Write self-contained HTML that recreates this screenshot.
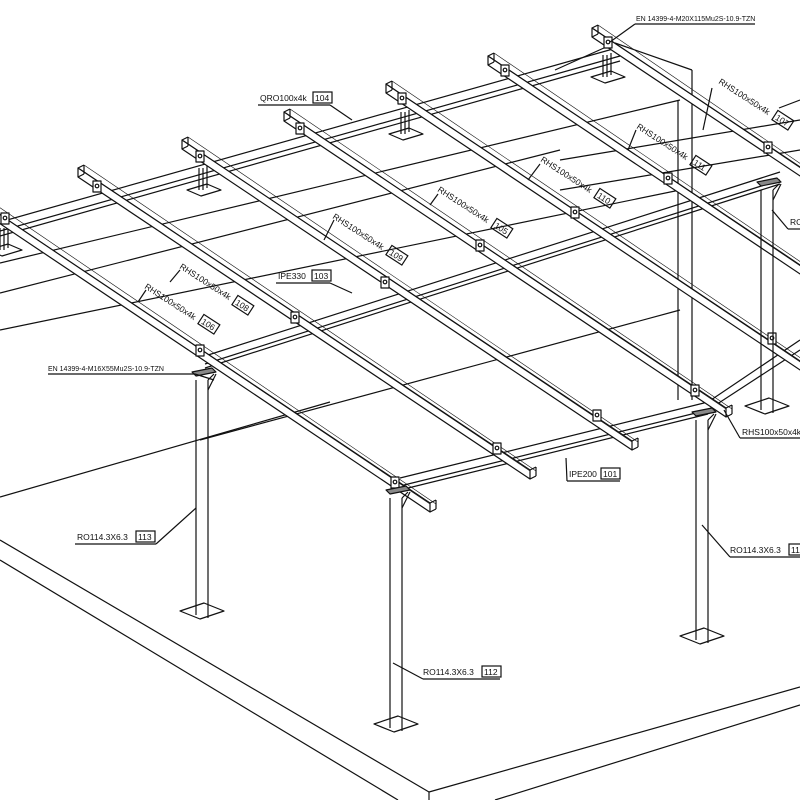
<!DOCTYPE html>
<html><head><meta charset="utf-8"><style>
html,body{margin:0;padding:0;background:#fff;}
svg{display:block;}
text{font-family:"Liberation Sans",sans-serif;fill:#111;}
</style></head><body>
<svg id="s" width="800" height="800" viewBox="0 0 800 800" xmlns="http://www.w3.org/2000/svg" stroke="#111" stroke-width="1.2" fill="none">
<g id="g" stroke-linejoin="round"></g>
<g stroke="none" font-size="8.5">
<text x="260" y="101">QRO100x4k</text>
<text x="278" y="279">IPE330</text>
<text x="48" y="371" font-size="7">EN 14399-4-M16X55Mu2S-10.9-TZN</text>
<text x="636" y="21" font-size="7">EN 14399-4-M20X115Mu2S-10.9-TZN</text>
<text x="569" y="477">IPE200</text>
<text x="742" y="435">RHS100x50x4k</text>
<text x="77" y="540">RO114.3X6.3</text>
<text x="423" y="675">RO114.3X6.3</text>
<text x="730" y="553">RO114.3X6.3</text>
<text x="790" y="225">RO</text>
<text transform="translate(179,268) rotate(33)">RHS100x50x4k</text>
<text transform="translate(144,288) rotate(33)">RHS100x50x4k</text>
<text transform="translate(332,218) rotate(33)">RHS100x50x4k</text>
<text transform="translate(437,191) rotate(33)">RHS100x50x4k</text>
<text transform="translate(540,161) rotate(33)">RHS100x50x4k</text>
<text transform="translate(636,128) rotate(33)">RHS100x50x4k</text>
<text transform="translate(718,83) rotate(33)">RHS100x50x4k</text>
</g>
<g font-size="8.5">
<rect x="313" y="92" width="19" height="11"/><text x="315" y="101" stroke="none">104</text>
<rect x="312" y="270" width="19" height="11"/><text x="314" y="279" stroke="none">103</text>
<rect x="601" y="468" width="19" height="11"/><text x="603" y="477" stroke="none">101</text>
<rect x="136" y="531" width="19" height="11"/><text x="138" y="540" stroke="none">113</text>
<rect x="482" y="666" width="19" height="11"/><text x="484" y="675" stroke="none">112</text>
<rect x="789" y="544" width="19" height="11"/><text x="791" y="553" stroke="none">115</text>
<g transform="translate(233,303) rotate(33)"><rect x="0" y="-9" width="19" height="11"/><text x="2" y="0" stroke="none">108</text></g>
<g transform="translate(199,322) rotate(33)"><rect x="0" y="-9" width="19" height="11"/><text x="2" y="0" stroke="none">106</text></g>
<g transform="translate(387,253) rotate(33)"><rect x="0" y="-9" width="19" height="11"/><text x="2" y="0" stroke="none">109</text></g>
<g transform="translate(492,226) rotate(33)"><rect x="0" y="-9" width="19" height="11"/><text x="2" y="0" stroke="none">105</text></g>
<g transform="translate(595,196) rotate(33)"><rect x="0" y="-9" width="19" height="11"/><text x="2" y="0" stroke="none">110</text></g>
<g transform="translate(691,163) rotate(33)"><rect x="0" y="-9" width="19" height="11"/><text x="2" y="0" stroke="none">111</text></g>
<g transform="translate(773,118) rotate(33)"><rect x="0" y="-9" width="19" height="11"/><text x="2" y="0" stroke="none">107</text></g>
</g>
</svg>
<script>
var g=document.getElementById('g');
function L(a,b,c,d,w){var e=document.createElementNS('http://www.w3.org/2000/svg','line');e.setAttribute('x1',a);e.setAttribute('y1',b);e.setAttribute('x2',c);e.setAttribute('y2',d);if(w)e.setAttribute('stroke-width',w);g.appendChild(e);}
function P(pts,fill){var e=document.createElementNS('http://www.w3.org/2000/svg','polygon');e.setAttribute('points',pts);if(fill)e.setAttribute('fill',fill);g.appendChild(e);}
// background slab / walls
L(0,497,330,402);L(0,540,429,792);L(0,560,398,800);L(429,792,800,687);L(429,792,429,800);L(495,800,800,705);
L(0,263,680,100);L(0,293,560,150);L(0,330,680,190);L(200,440,680,310);
L(615,43,692,70);L(692,70,692,400);L(678,100,678,400);L(555,70,615,43);
L(560,160,800,120);L(560,190,800,150);
// back beam QRO
L(0,222,620,47);L(0,231,620,56);L(0,236,620,61);L(620,47,625,52);
function post(x,y){L(x-4,y,x-4,y+22);L(x+4,y-2,x+4,y+20);L(x,y,x,y+22);P((x-16)+','+(y+22)+' '+(x+4)+','+(y+16)+' '+(x+18)+','+(y+22)+' '+(x-2)+','+(y+28));}
post(4,228);post(203,168);post(405,112);post(607,55);
// IPE330
L(205,356,780,172);L(205,364,780,180);L(205,368,780,184);
// IPE200
L(400,478,708,402);L(400,486,708,410);L(400,490,708,414);L(708,402,800,340);L(708,410,800,350);
var pur=[[-10,208,430,503],[78,168,530,470],[182,140,632,441],[284,112,726,408],[386,84,830,381],[488,56,830,285],[592,28,830,187]];
pur.forEach(function(p){var a=p[0],b=p[1],c=p[2],d=p[3];
P(a+','+b+' '+c+','+d+' '+c+','+(d+9)+' '+(a)+','+(b+9),'#fff');
L(a+2,b+1,c,d+1,0.6);L(a,b,a+6,b-3);L(a+6,b-3,a+6,b+6);L(a,b+9,a+6,b+6);L(a+6,b-3,c+6,d+1,0.6);
if(c<800){L(c,d,c+6,d-3);L(c+6,d-3,c+6,d+6);L(c,d+9,c+6,d+6);}
});
[[5,218],[97,186],[200,156],[300,128],[402,98],[505,70],[608,42],[200,350],[295,317],[385,282],[480,245],[575,212],[668,178],[768,147],[395,482],[497,448],[597,415],[695,390],[772,338]].forEach(function(p){
P((p[0]-4)+','+(p[1]-5)+' '+(p[0]+4)+','+(p[1]-5)+' '+(p[0]+4)+','+(p[1]+6)+' '+(p[0]-4)+','+(p[1]+6),'#fff');
var c=document.createElementNS('http://www.w3.org/2000/svg','circle');c.setAttribute('cx',p[0]);c.setAttribute('cy',p[1]);c.setAttribute('r',1.8);g.appendChild(c);});
function col(x,y1,y2){L(x-6,y1,x-6,y2);L(x+6,y1,x+6,y2+3);P((x-22)+','+(y2-4)+' '+(x+2)+','+(y2-12)+' '+(x+22)+','+(y2-4)+' '+(x-2)+','+(y2+4));
P((x-10)+','+(y1-8)+' '+(x+10)+','+(y1-12)+' '+(x+14)+','+(y1-8)+' '+(x-6)+','+(y1-4),'#888');L(x+6,y1,x+12,y1-6);L(x+6,y1+10,x+14,y1-6);}
col(202,380,615);col(396,498,728);col(702,420,640);col(767,190,410);
L(258,105,330,105);L(330,105,352,120);
L(276,283,330,283);L(330,283,352,293);
L(48,374,195,374);L(195,374,214,380);
L(635,24,755,24);L(635,24,610,42);
L(567,481,620,481);L(567,481,566,458);
L(740,438,800,438);L(740,438,724,410);
L(75,544,156,544);L(156,544,196,508);
L(423,679,500,679);L(423,679,393,663);
L(730,557,800,557);L(730,557,702,525);
L(788,229,800,229);L(788,229,772,210);
L(712,88,703,130);L(636,130,628,150);L(540,164,528,180);L(438,194,430,205);L(334,220,324,240);L(180,270,170,282);L(146,290,138,302);
L(779,108,800,100);
</script>
</body></html>
